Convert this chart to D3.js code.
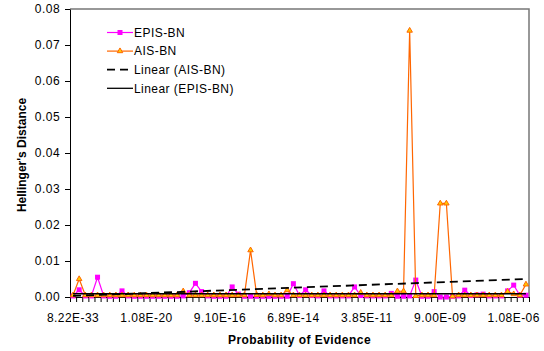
<!DOCTYPE html>
<html>
<head>
<meta charset="utf-8">
<script src="https://cdn.jsdelivr.net/npm/d3@7"></script>
<style>
  body { margin: 0; background: #fff; }
  svg text { font-family: "Liberation Sans", Arial, sans-serif; font-size: 12px; letter-spacing: 0.45px; fill: #000; }
  .axis-title { font-weight: bold; }
</style>
</head>
<body>
<svg id="chart" width="544" height="351"></svg>
<script>
// Hellinger's distance per test case, sorted by probability of evidence.
// Values.

const tickLabels = ['8.22E-33', '1.08E-20', '9.10E-16', '6.89E-14', '3.85E-11', '9.00E-09', '1.08E-06'];
const labelStep = 12;

const episBN = [
  0.0003, 0.0020, 0.0003, 0.0003, 0.0055, 0.0003, 0.0002, 0.0002, 0.0017, 0.0003,
  0.0002, 0.0002, 0.0002, 0.0002, 0.0002, 0.0002, 0.0002, 0.0002, 0.0003, 0.0012,
  0.0038, 0.0015, 0.0003, 0.0002, 0.0002, 0.0002, 0.0028, 0.0008, 0.0002, 0.0002,
  0.0002, 0.0002, 0.0002, 0.0002, 0.0002, 0.0002, 0.0037, 0.0004, 0.0020, 0.0004,
  0.0003, 0.0017, 0.0003, 0.0003, 0.0003, 0.0003, 0.0028, 0.0004, 0.0003, 0.0003,
  0.0003, 0.0003, 0.0010, 0.0002, 0.0002, 0.0003, 0.0047, 0.0002, 0.0002, 0.0015,
  0.0000, 0.0000, 0.0002, 0.0003, 0.0019, 0.0004, 0.0006, 0.0008, 0.0003, 0.0003,
  0.0003, 0.0017, 0.0033, 0.0005, 0.0005
];

const aisBN = [
  0.0005, 0.0050, 0.0005, 0.0005, 0.0005, 0.0005, 0.0005, 0.0005, 0.0005, 0.0005,
  0.0005, 0.0005, 0.0005, 0.0005, 0.0005, 0.0005, 0.0005, 0.0005, 0.0016, 0.0005,
  0.0005, 0.0005, 0.0005, 0.0005, 0.0005, 0.0005, 0.0005, 0.0005, 0.0005, 0.0130,
  0.0006, 0.0005, 0.0008, 0.0005, 0.0005, 0.0019, 0.0005, 0.0005, 0.0005, 0.0005,
  0.0005, 0.0005, 0.0005, 0.0005, 0.0005, 0.0005, 0.0005, 0.0012, 0.0005, 0.0005,
  0.0005, 0.0005, 0.0005, 0.0016, 0.0016, 0.0740, 0.0003, 0.0005, 0.0005, 0.0005,
  0.0260, 0.0260, 0.0002, 0.0005, 0.0005, 0.0005, 0.0005, 0.0005, 0.0005, 0.0005,
  0.0005, 0.0015, 0.0008, 0.0005, 0.0035
];

// Linear trendline values at first and last case
const aisTrend = [0.0003, 0.0050];
const episTrend = [0.0009, 0.0009];

const yTicks = [0, 0.01, 0.02, 0.03, 0.04, 0.05, 0.06, 0.07, 0.08];

const legendItems = [
  { name: 'EPIS-BN', kind: 'epis' },
  { name: 'AIS-BN', kind: 'ais' },
  { name: 'Linear (AIS-BN)', kind: 'aisTrend' },
  { name: 'Linear (EPIS-BN)', kind: 'episTrend' }
];

const EPIS_COLOR = '#ff00ff';
const AIS_COLOR = '#ff6600';
const AIS_FILL = '#ffcc00';

const plot = { left: 70, right: 529, top: 9, bottom: 297 };
const n = episBN.length;
const idx = d3.range(n);

const svg = d3.select('#chart');

// Scales: one band per case, markers sit in the middle of the band
const x = d3.scaleBand().domain(idx).range([plot.left, plot.right]).padding(0);
const xEdge = d3.scaleLinear().domain([0, n]).range([plot.left, plot.right]);
const y = d3.scaleLinear().domain([0, 0.08]).range([plot.bottom, plot.top]);
const cx = i => x(i) + x.bandwidth() / 2;

// Plot area frame (top/right are gray in the original)
svg.append('path')
  .attr('d', `M${plot.left},${plot.top} H${plot.right} V${plot.bottom}`)
  .attr('fill', 'none')
  .attr('stroke', '#777')
  .attr('stroke-width', 1.5);

// Y axis
const yAxis = svg.append('g')
  .attr('transform', `translate(${plot.left},0)`)
  .call(d3.axisLeft(y).tickValues(yTicks).tickFormat(d3.format('.2f')).tickSize(5).tickPadding(5).tickSizeOuter(0));
yAxis.select('.domain').attr('stroke', '#000');
yAxis.selectAll('text').attr('font-size', 12).attr('font-family', null);

// X axis: tick marks on every case boundary
const xTickAxis = svg.append('g')
  .attr('transform', `translate(0,${plot.bottom})`)
  .call(d3.axisBottom(xEdge).tickValues(d3.range(n + 1)).tickFormat('').tickSize(5).tickSizeOuter(0));
xTickAxis.select('.domain').attr('stroke', '#000');

// X labels every labelStep cases
const xLabelAxis = svg.append('g')
  .attr('transform', `translate(0,${plot.bottom})`)
  .call(d3.axisBottom(x)
    .tickValues(tickLabels.map((_, k) => k * labelStep))
    .tickFormat(i => tickLabels[i / labelStep])
    .tickSize(0).tickPadding(16));
xLabelAxis.select('.domain').remove();
xLabelAxis.selectAll('text').attr('font-size', 12).attr('font-family', null);

// Axis titles
svg.append('text')
  .attr('class', 'axis-title')
  .attr('x', (plot.left + plot.right) / 2)
  .attr('y', 344)
  .attr('text-anchor', 'middle')
  .text('Probability of Evidence');

svg.append('text')
  .attr('class', 'axis-title')
  .attr('transform', 'translate(26,155) rotate(-90)')
  .attr('text-anchor', 'middle')
  .style('letter-spacing', '0px')
  .text("Hellinger's Distance");

const line = d3.line().x((d, i) => cx(i)).y(d => y(d));
const tri = d3.symbol().type(d3.symbolTriangle).size(13);

// EPIS-BN series
svg.append('path')
  .attr('d', line(episBN))
  .attr('fill', 'none')
  .attr('stroke', EPIS_COLOR)
  .attr('stroke-width', 1.2);

svg.append('g').selectAll('rect')
  .data(episBN)
  .join('rect')
  .attr('x', (d, i) => cx(i) - 2.5)
  .attr('y', d => y(d) - 2.5)
  .attr('width', 5)
  .attr('height', 5)
  .attr('fill', EPIS_COLOR);

// AIS-BN series
svg.append('path')
  .attr('d', line(aisBN))
  .attr('fill', 'none')
  .attr('stroke', AIS_COLOR)
  .attr('stroke-width', 1.2);

svg.append('g').selectAll('path')
  .data(aisBN)
  .join('path')
  .attr('d', tri)
  .attr('transform', (d, i) => `translate(${cx(i)},${y(d)})`)
  .attr('fill', AIS_FILL)
  .attr('stroke', AIS_COLOR)
  .attr('stroke-width', 1);

// Linear trendlines across first..last case
const trendX = [cx(0), cx(n - 1)];
svg.append('line')
  .attr('x1', trendX[0]).attr('x2', trendX[1])
  .attr('y1', y(aisTrend[0])).attr('y2', y(aisTrend[1]))
  .attr('stroke', '#000')
  .attr('stroke-width', 1.8)
  .attr('stroke-dasharray', '8,5');

svg.append('line')
  .attr('x1', trendX[0]).attr('x2', trendX[1])
  .attr('y1', y(episTrend[0])).attr('y2', y(episTrend[1]))
  .attr('stroke', '#000')
  .attr('stroke-width', 1.3);

// Legend
const legend = svg.append('g');
legendItems.forEach((item, k) => {
  const ly = 32.5 + k * 18.6;
  const row = legend.append('g').attr('transform', `translate(0,${ly})`);
  const sample = row.append('line')
    .attr('x1', 107).attr('x2', 133)
    .attr('y1', 0).attr('y2', 0);

  if (item.kind === 'epis') {
    sample.attr('stroke', EPIS_COLOR).attr('stroke-width', 1.2);
    row.append('rect').attr('x', 117.5).attr('y', -2.5).attr('width', 5).attr('height', 5).attr('fill', EPIS_COLOR);
  } else if (item.kind === 'ais') {
    sample.attr('stroke', AIS_COLOR).attr('stroke-width', 1.2);
    row.append('path').attr('d', tri).attr('transform', 'translate(120,0)')
      .attr('fill', AIS_FILL).attr('stroke', AIS_COLOR).attr('stroke-width', 1);
  } else if (item.kind === 'aisTrend') {
    sample.attr('stroke', '#000').attr('stroke-width', 1.8).attr('stroke-dasharray', '8,5');
  } else {
    sample.attr('stroke', '#000').attr('stroke-width', 1.3);
  }

  row.append('text')
    .attr('x', 134)
    .attr('y', 4.3)
    .text(item.name);
});
</script>
</body>
</html>
